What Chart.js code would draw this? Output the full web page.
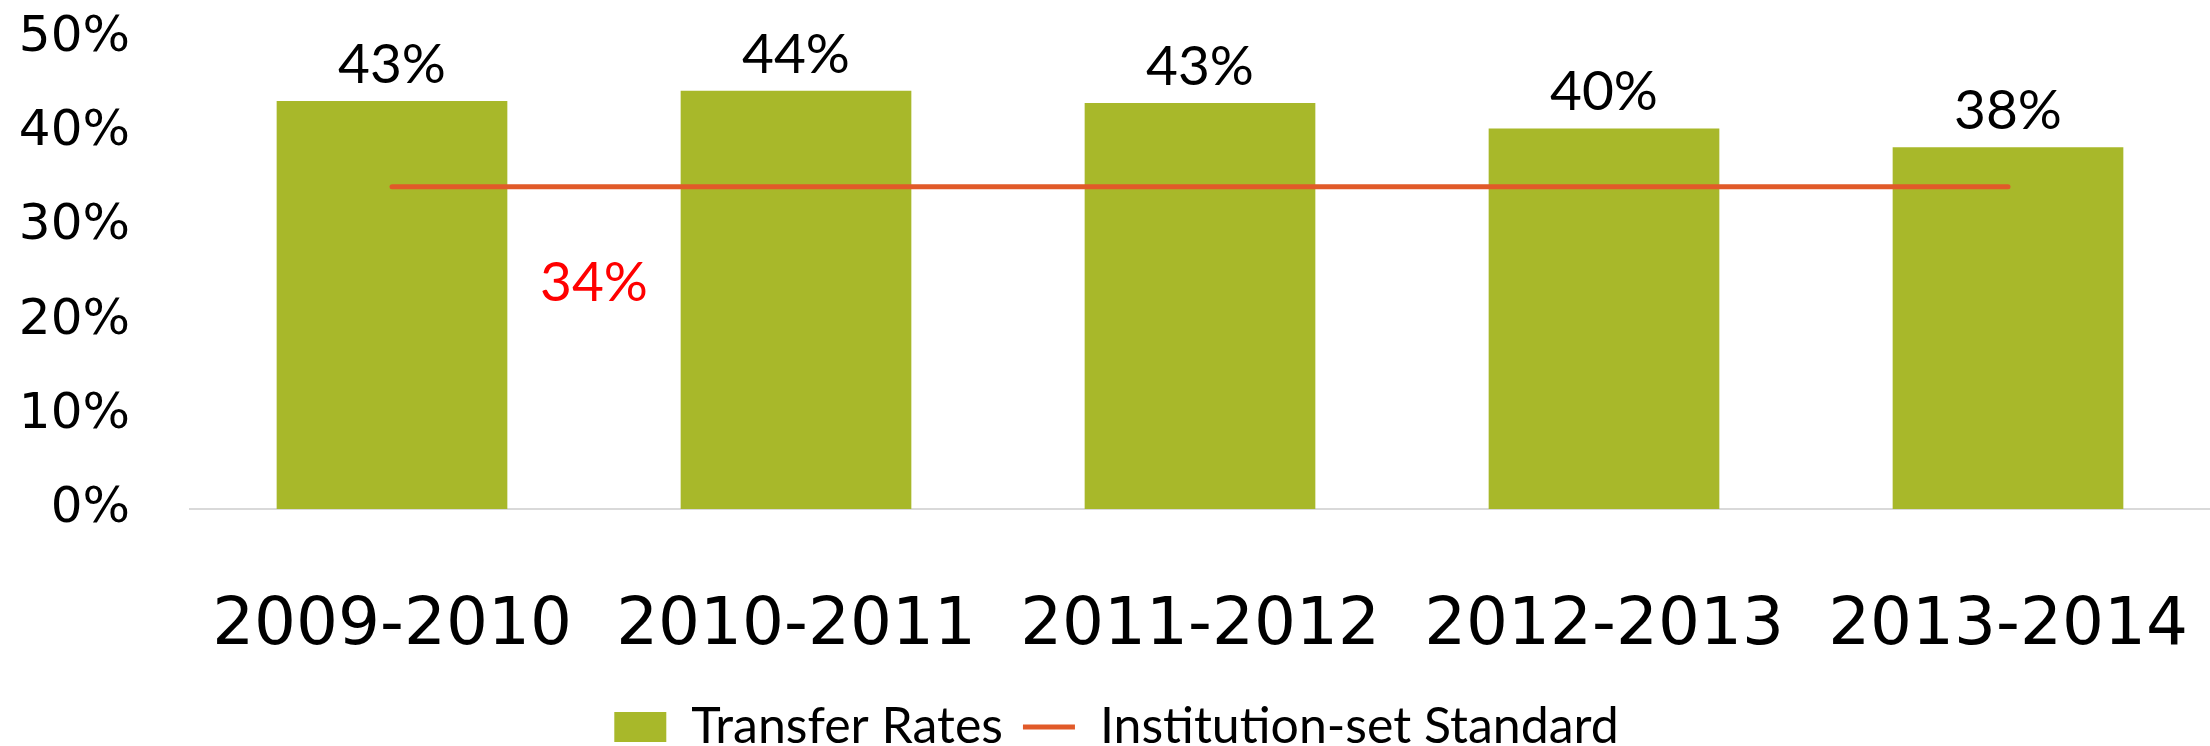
<!DOCTYPE html>
<html>
<head>
<meta charset="utf-8">
<script src="https://cdn.jsdelivr.net/npm/chart.js@4.4.1/dist/chart.umd.min.js"></script>
<style>
  html, body { margin: 0; padding: 0; background: #fff; }
  #wrap { width: 2210px; height: 746px; }
</style>
</head>
<body>
<div id="wrap"><canvas id="transferts"></canvas></div>
<script>
const annees = ['2009-2010', '2010-2011', '2011-2012', '2012-2013', '2013-2014'];
const tauxTransfert = [43.3, 44.4, 43.1, 40.4, 38.4];
const standardInstitution = [34.2, 34.2, 34.2, 34.2, 34.2];
const etiquetteStandard = '34%';
const ticksY = [0, 10, 20, 30, 40, 50];

// étiquettes au-dessus des barres + le "34%" rouge sous la ligne
const etiquettes = {
    id: 'etiquettes',
    afterDatasetsDraw(chart) {
        const ctx = chart.ctx;
        const barres = chart.getDatasetMeta(0).data;
        ctx.save();
        ctx.font = '55px Lato';
        ctx.textAlign = 'center';
        ctx.textBaseline = 'alphabetic';
        ctx.fillStyle = '#000';
        barres.forEach((b, i) => {
            ctx.fillText(Math.round(tauxTransfert[i]) + '%', b.x, b.y - 18);
        });
        const x = chart.scales.x;
        const y = chart.scales.y;
        ctx.fillStyle = '#FF0000';
        const xs = (x.getPixelForValue(0) + x.getPixelForValue(1)) / 2;
        ctx.fillText(etiquetteStandard, xs, y.getPixelForValue(standardInstitution[0]) + 114);
        ctx.restore();
    }
};

new Chart(document.getElementById('transferts'), {
    data: {
        labels: annees,
        datasets: [{
            type: 'bar',
            label: 'Transfer Rates',
            data: tauxTransfert,
            backgroundColor: '#A8B82A',
            barPercentage: 0.571,
            categoryPercentage: 1,
            order: 1,
            pointStyle: 'rect',
        }, {
            type: 'line',
            label: 'Institution-set Standard',
            data: standardInstitution,
            borderColor: '#E15A29',
            backgroundColor: '#E15A29',
            borderWidth: 5,
            borderCapStyle: 'round',
            pointRadius: 0,
            pointStyle: 'line',
            order: 0,
        }]
    },
    options: {
        responsive: true,
        maintainAspectRatio: false,
        animation: false,
        layout: {
            padding: { left: 19, right: -4, top: 38, bottom: -16 }
        },
        scales: {
            y: {
                min: 0,
                max: 50,
                afterBuildTicks: (axis) => { axis.ticks = ticksY.map(v => ({ value: v })); },
                // chart.js compte le padding deux fois, on fixe la largeur
                afterFit: (axis) => { axis.paddingTop = 0; axis.paddingBottom = 0; axis.width = 171; },
                ticks: {
                    autoSkip: false,
                    padding: 60,
                    color: '#000',
                    font: { family: 'DejaVu Sans', size: 50 },
                    callback: (v) => v + '%',
                },
                grid: { display: false, drawTicks: false },
                border: { display: false },
            },
            x: {
                afterFit: (axis) => { axis.paddingLeft = 0; axis.paddingRight = 0; axis.height = 173; },
                ticks: {
                    autoSkip: false,
                    maxRotation: 0,
                    padding: 78,
                    color: '#000',
                    font: { family: 'DejaVu Sans', size: 66 },
                },
                grid: { display: false, drawTicks: false },
                border: { display: true, color: '#D9D9D9', width: 2 },
            }
        },
        plugins: {
            legend: {
                position: 'bottom',
                labels: {
                    usePointStyle: true,
                    pointStyleWidth: 52,
                    boxHeight: 30,
                    padding: 20,
                    color: '#000',
                    font: { family: 'Lato', size: 50 },
                    sort: (a, b) => a.datasetIndex - b.datasetIndex,
                }
            },
            tooltip: { enabled: false }
        }
    },
    plugins: [etiquettes]
});
</script>
</body>
</html>
